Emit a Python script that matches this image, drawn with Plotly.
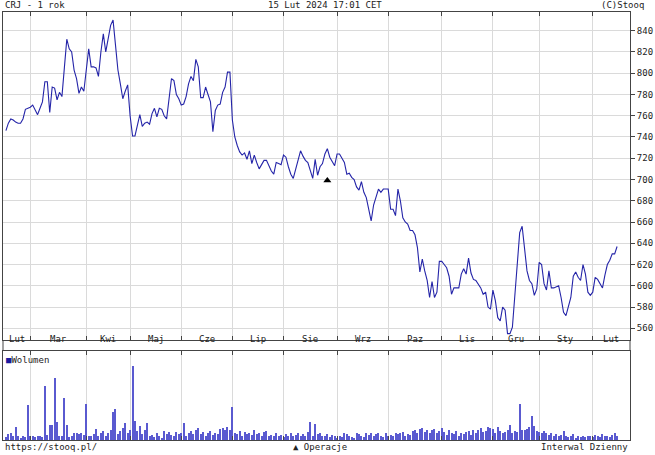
import plotly.graph_objects as go

# Daily close (trading-day index 0..251, 15 Feb 2023 - 15 Feb 2024)
price = [
    746, 753, 757, 756, 754, 753, 753, 757, 766, 767,
    768, 770, 765, 761, 767, 773, 792, 792, 763, 787,
    786, 775, 782, 778, 805, 832, 823, 820, 803, 795,
    781, 787, 783, 803, 823, 806, 806, 805, 797, 820,
    837, 820, 833, 845, 850, 825, 803, 790, 776, 783,
    789, 760, 741, 741, 752, 761, 750, 753, 754, 752,
    762, 767, 759, 767, 766, 760, 757, 775, 795, 793,
    780, 776, 770, 771, 778, 790, 797, 793, 813, 806,
    777, 777, 787, 780, 773, 745, 765, 770, 771, 782,
    787, 801, 801, 756, 740, 732, 726, 723, 725, 719,
    727, 715, 723, 716, 710, 714, 718, 718, 712, 708,
    705, 716, 715, 714, 723, 721, 712, 705, 701, 710,
    720, 727, 722, 718, 716, 708, 701, 719, 704, 712,
    715, 724, 729, 721, 717, 713, 724, 724, 720, 716,
    705, 706, 702, 700, 693, 690, 698, 688, 683, 672,
    661, 676, 683, 691, 688, 691, 691, 691, 672, 672,
    666, 691, 680, 664, 660, 658, 652, 652, 648, 636,
    613, 625, 614, 605, 589, 604, 589, 594, 623, 623,
    620, 617, 609, 592, 598, 598, 598, 611, 616, 611,
    626, 612, 606, 605, 601, 598, 592, 594, 580, 578,
    596, 586, 570, 567, 580, 577, 555, 555, 561, 592,
    620, 650, 656, 636, 614, 605, 602, 591, 597, 622,
    620, 602, 596, 614, 598, 598, 599, 600, 589, 575,
    572, 580, 589, 609, 613, 608, 605, 620, 611, 594,
    591, 594, 608, 606, 602, 598, 610, 620, 624, 630,
    630, 637,
]

# Daily volume (relative units, tallest bar = 100)
volume = [
    4, 8, 10, 5, 18, 6, 3, 5, 4, 47,
    6, 5, 4, 5, 6, 4, 73, 7, 20, 20,
    84, 24, 6, 5, 56, 20, 4, 6, 9, 10,
    8, 10, 7, 49, 6, 5, 8, 15, 5, 10,
    12, 6, 9, 14, 38, 42, 8, 12, 16, 23,
    10, 14, 100, 26, 12, 19, 8, 14, 23, 5,
    7, 4, 9, 6, 3, 12, 8, 11, 7, 6,
    11, 8, 10, 23, 6, 9, 12, 8, 14, 16,
    8, 11, 6, 9, 12, 7, 10, 8, 15, 16,
    13, 18, 14, 45, 10, 8, 12, 6, 11, 8,
    9, 7, 13, 8, 10, 6, 11, 12, 5, 7,
    6, 9, 5, 7, 4, 8, 6, 10, 5, 7,
    9, 6, 8, 5, 11, 24, 6, 21, 8, 10,
    6, 5, 8, 4, 7, 5, 3, 6, 4, 9,
    8, 5, 4, 3, 9, 8, 6, 4, 10, 7,
    9, 5, 8, 10, 6, 4, 9, 5, 7, 6,
    9, 8, 10, 11, 5, 8, 7, 12, 13, 10,
    15, 16, 11, 14, 9, 13, 15, 10, 12, 16,
    11, 7, 13, 9, 8, 12, 6, 10, 8, 11,
    12, 7, 14, 10, 13, 16, 11, 12, 18, 16,
    15, 9, 17, 12, 10, 11, 14, 20, 9, 12,
    11, 48, 13, 14, 15, 18, 32, 19, 12, 11,
    10, 12, 9, 7, 10, 6, 8, 5, 7, 12,
    6, 4, 5, 8, 3, 5, 4, 6, 4, 5,
    6, 4, 7, 5, 4, 8, 5, 6, 4, 7,
    9, 5,
]

# Month labels and the trading-day index where each new month starts
month_labels = ["Lut", "Mar", "Kwi", "Maj", "Cze", "Lip", "Sie",
                "Wrz", "Paz", "Lis", "Gru", "Sty", "Lut"]
month_starts = [10, 33, 51, 72, 93, 114, 136, 157, 179, 200, 219, 241]

y_ticks = [560, 580, 600, 620, 640, 660, 680, 700, 720, 740, 760, 780, 800, 820, 840]

# Corporate-action marker ("Operacje")
event_idx = [132]
event_val = [699]

idx = list(range(len(price)))
X_MIN, X_MAX = -1.2, 256.3

FONT = "DejaVu Sans Mono"
LINE_C = "#444444"
GRID_C = "#dadada"

MAIN_DOM = [0.23364, 1.0]
VOL_DOM = [0.0, 0.20794]

fig = go.Figure()
fig.add_trace(go.Scatter(x=idx, y=price, mode="lines",
                         line=dict(color="#2424a8", width=1.1),
                         xaxis="x", yaxis="y", showlegend=False, hoverinfo="skip"))
fig.add_trace(go.Scatter(x=event_idx, y=event_val, mode="markers",
                         marker=dict(symbol="triangle-up", size=7, color="black"),
                         xaxis="x", yaxis="y", showlegend=False, hoverinfo="skip"))
fig.add_trace(go.Bar(x=idx, y=volume, width=0.42,
                     marker=dict(color="#5a5ad0", line=dict(width=0)),
                     xaxis="x2", yaxis="y2", showlegend=False, hoverinfo="skip"))

xcommon = dict(range=[X_MIN, X_MAX], tickvals=month_starts, showticklabels=False,
               ticks="inside", ticklen=4, tickcolor=LINE_C, showgrid=True,
               gridcolor=GRID_C, gridwidth=1, showline=True, linecolor=LINE_C,
               linewidth=1, mirror="ticks", zeroline=False, fixedrange=True)

fig.update_layout(
    width=655, height=455,
    margin=dict(l=2, r=19, t=12, b=15),
    paper_bgcolor="white", plot_bgcolor="white",
    bargap=0,
    xaxis=dict(domain=[0, 1], anchor="y", **xcommon),
    yaxis=dict(domain=MAIN_DOM, anchor="x", range=[549, 857.6], side="right",
               tickvals=y_ticks, ticks="outside", ticklen=4, tickcolor=LINE_C,
               tickfont=dict(family=FONT, size=9, color="#222222"),
               showgrid=True, gridcolor=GRID_C, gridwidth=1,
               showline=True, linecolor=LINE_C, linewidth=1, mirror=True,
               zeroline=False, fixedrange=True),
    xaxis2=dict(domain=[0, 1], anchor="y2", **xcommon),
    yaxis2=dict(domain=VOL_DOM, anchor="x2", range=[0, 120], side="right",
                showticklabels=False, ticks="", showgrid=False,
                showline=True, linecolor=LINE_C, linewidth=1, mirror=True,
                zeroline=False, fixedrange=True),
)

# Borders of the month-label band
band_mid = (VOL_DOM[1] + MAIN_DOM[0]) / 2
for xp in (0, 1):
    fig.add_shape(type="line", xref="paper", yref="paper", x0=xp, x1=xp,
                  y0=VOL_DOM[1], y1=MAIN_DOM[0], line=dict(color=LINE_C, width=1))

lefts = [X_MIN] + month_starts
rights = month_starts + [X_MAX]
for lab, l, r in zip(month_labels, lefts, rights):
    fig.add_annotation(x=(l + r) / 2, xref="x", y=band_mid, yref="paper",
                       text=lab, showarrow=False,
                       font=dict(family=FONT, size=9, color="#222222"))

txt_font = dict(family=FONT, size=9, color="#222222")
# header
fig.add_annotation(x=0, xref="paper", xanchor="left", y=1.017, yref="paper",
                   yanchor="middle", text="CRJ - 1 rok", showarrow=False, font=txt_font)
fig.add_annotation(x=0.513, xref="paper", xanchor="center", y=1.017, yref="paper",
                   yanchor="middle", text="15 Lut 2024 17:01 CET", showarrow=False, font=txt_font)
fig.add_annotation(x=1.026, xref="paper", xanchor="right", y=1.017, yref="paper",
                   yanchor="middle", text="(C)Stooq", showarrow=False, font=txt_font)
# footer
fig.add_annotation(x=0, xref="paper", xanchor="left", y=-0.017, yref="paper",
                   yanchor="middle", text="https://stooq.pl/", showarrow=False, font=txt_font)
fig.add_annotation(x=0.506, xref="paper", xanchor="center", y=-0.017, yref="paper",
                   yanchor="middle", text="▲ Operacje", showarrow=False, font=txt_font)
fig.add_annotation(x=1.0, xref="paper", xanchor="right", y=-0.017, yref="paper",
                   yanchor="middle", text="Interwal Dzienny", showarrow=False, font=txt_font)
# volume legend
fig.add_annotation(x=0.002, xref="paper", xanchor="left", y=VOL_DOM[1] - 0.004, yref="paper",
                   yanchor="top",
                   text='<span style="color:#1a1aa0">■</span>Wolumen',
                   showarrow=False, font=txt_font)

fig.write_html("out.html",
               config={"displayModeBar": False},
               post_script="document.body.style.margin='0';"
                           "document.body.style.padding='0';"
                           "document.body.style.overflow='hidden';")
